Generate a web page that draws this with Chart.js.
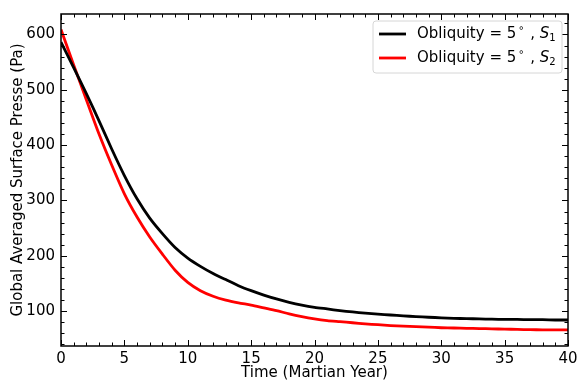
<!DOCTYPE html>
<html>
<head>
<meta charset="utf-8">
<script src="https://cdn.jsdelivr.net/npm/chart.js@4.4.1/dist/chart.umd.min.js"></script>
<style>
  html, body { margin: 0; padding: 0; background: #fff; }
  #wrap { width: 580px; height: 381px; }
</style>
</head>
<body>
<div id="wrap"><canvas id="pressChart" width="580" height="381"></canvas></div>
<script>
// time axis (Martian years)
const years = [];
for (let i = 0; i <= 40; i++) years.push(i);

// global averaged surface pressure (Pa)
const pressS1 = [586, 540, 493, 444, 393, 345, 303, 268, 240, 215,
  196, 181, 168, 157, 146, 137, 129, 122, 116, 111,
  107, 104, 101, 98.5, 96.5, 94.5, 93, 91.5, 90, 89,
  88, 87, 86.5, 86, 85.5, 85, 85, 84.5, 84.5, 84, 84];
const pressS2 = [609, 545, 482, 420, 364, 312, 270, 234, 203, 174,
  152, 137, 127, 120, 115, 111, 106, 101, 95, 90,
  86, 83, 81, 79, 77, 75.5, 74, 73, 72, 71,
  70, 69.5, 69, 68.5, 68, 67.5, 67, 66.5, 66.3, 66, 66];

const seriesColors = ['#000000', '#ff0000'];
const legendSubs = ['1', '2'];
const xMajor = [0, 5, 10, 15, 20, 25, 30, 35, 40];
const yMajor = [100, 200, 300, 400, 500, 600];

const FONT = "'DejaVu Sans', sans-serif";

// matplotlib-like frame with inward ticks on all sides
const framePlugin = {
  id: 'frame',
  afterDraw(chart) {
    const c = chart.ctx;
    const a = chart.chartArea;
    const xs = chart.scales.x, ys = chart.scales.y;
    c.save();
    c.strokeStyle = '#000';
    c.lineWidth = 1;
    const tick = (x1, y1, x2, y2) => { c.beginPath(); c.moveTo(x1, y1); c.lineTo(x2, y2); c.stroke(); };
    for (let v = xs.min; v <= xs.max; v += 1) {
      const px = Math.round(xs.getPixelForValue(v)) + 0.5;
      const len = v % 5 === 0 ? 6 : 3.5;
      tick(px, a.bottom, px, a.bottom - len);
      tick(px, a.top, px, a.top + len);
    }
    for (let v = 40; v <= ys.max; v += 20) {
      const py = Math.round(ys.getPixelForValue(v)) + 0.5;
      const len = v % 100 === 0 ? 6 : 3.5;
      tick(a.left, py, a.left + len, py);
      tick(a.right, py, a.right - len, py);
    }
    c.lineWidth = 1.5;
    c.strokeRect(a.left, a.top, a.right - a.left, a.bottom - a.top);

    // legend box
    const bx = a.right - 195, by = a.top + 7, bw = 189, bh = 52;
    c.beginPath();
    c.roundRect(bx, by, bw, bh, 3);
    c.fillStyle = 'rgba(255,255,255,0.8)';
    c.fill();
    c.lineWidth = 1;
    c.strokeStyle = '#d6d6d6';
    c.stroke();
    for (let i = 0; i < 2; i++) {
      const cy = by + 13 + i * 24;
      c.strokeStyle = seriesColors[i];
      c.lineWidth = 2.8;
      tick(bx + 6, cy, bx + 33, cy);
      c.fillStyle = '#000';
      c.textBaseline = 'middle';
      c.textAlign = 'left';
      let tx = bx + 44;
      c.font = '15px ' + FONT;
      const t1 = 'Obliquity = 5';
      c.fillText(t1, tx, cy);
      tx += c.measureText(t1).width + 2;
      c.font = '10px ' + FONT;
      c.fillText('\u2218', tx, cy - 6);
      tx += c.measureText('\u2218').width + 1;
      c.font = '15px ' + FONT;
      c.fillText(' , ', tx, cy);
      tx += c.measureText(' , ').width;
      c.font = 'italic 15px ' + FONT;
      c.fillText('S', tx, cy);
      tx += c.measureText('S').width;
      c.font = '10px ' + FONT;
      c.fillText(legendSubs[i], tx, cy + 4);
    }
    c.restore();
  }
};

const ctx = document.getElementById('pressChart').getContext('2d');
const pressChart = new Chart(ctx, {
  type: 'line',
  data: {
    labels: years,
    datasets: [
      { label: 'Obliquity = 5°, S1', data: years.map((t, i) => ({ x: t, y: pressS1[i] })), borderColor: seriesColors[0] },
      { label: 'Obliquity = 5°, S2', data: years.map((t, i) => ({ x: t, y: pressS2[i] })), borderColor: seriesColors[1] }
    ]
  },
  options: {
    responsive: false,
    animation: false,
    layout: { padding: { left: 0, top: 14, right: 12, bottom: 0 } },
    elements: {
      point: { radius: 0 },
      line: { borderWidth: 2.8, tension: 0.25, fill: false }
    },
    plugins: {
      legend: { display: false },
      tooltip: { enabled: false }
    },
    scales: {
      x: {
        type: 'linear',
        min: 0, max: 40,
        grid: { display: false, drawTicks: false },
        border: { display: false },
        afterBuildTicks: s => { s.ticks = xMajor.map(v => ({ value: v })); },
        afterFit: s => { s.height = 35; s.paddingLeft = 0; s.paddingRight = 0; },
        ticks: { color: '#000', font: { family: FONT, size: 15 }, padding: 4, maxRotation: 0 },
        title: { display: true, text: 'Time (Martian Year)', color: '#000', font: { family: FONT, size: 15, lineHeight: 1 }, padding: { top: 0, bottom: 0 } }
      },
      y: {
        min: 37, max: 637,
        grid: { display: false, drawTicks: false },
        border: { display: false },
        afterBuildTicks: s => { s.ticks = yMajor.map(v => ({ value: v })); },
        afterFit: s => { s.width = 61; s.paddingTop = 0; s.paddingBottom = 0; },
        ticks: { color: '#000', font: { family: FONT, size: 15 }, padding: 6 },
        title: { display: true, text: 'Global Averaged Surface Presse (Pa)', color: '#000', font: { family: FONT, size: 15 }, padding: { top: 9, bottom: 0 } }
      }
    }
  },
  plugins: [framePlugin]
});
</script>
</body>
</html>
